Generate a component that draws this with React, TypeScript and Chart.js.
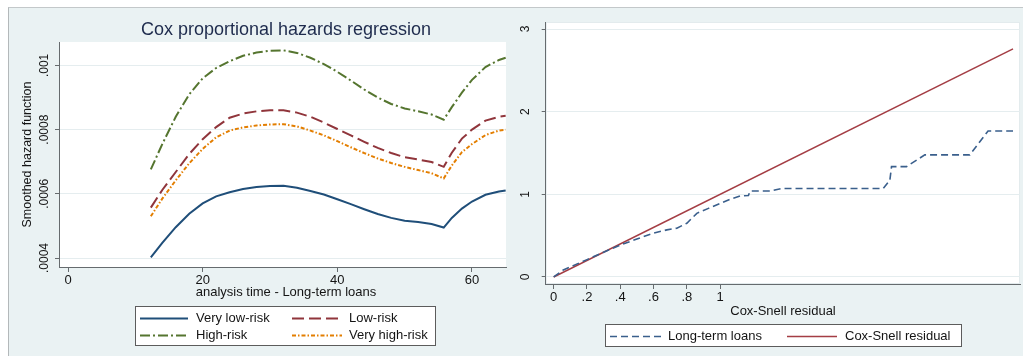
import React, { useEffect, useRef } from 'react';
import { Chart, registerables } from 'chart.js';

Chart.register(...registerables);

// Smoothed hazard estimates by risk group, long-term loans
const hazardTime = [12.3, 14, 16, 18, 20, 22, 24, 26, 28, 30, 32, 34, 36, 38, 40, 42, 44, 46, 48, 50, 52, 54, 55.8, 57, 58.5, 60, 62, 64, 65];
const veryLowRisk = [0.000402, 0.000447, 0.000496, 0.000538, 0.00057, 0.000592, 0.000605, 0.000615, 0.000621, 0.000624, 0.000625, 0.000619, 0.000609, 0.000598, 0.000583, 0.000568, 0.000552, 0.000537, 0.000525, 0.000516, 0.000512, 0.000506, 0.000495, 0.000525, 0.000554, 0.000576, 0.000597, 0.000607, 0.00061];
const lowRisk = [0.000557, 0.000612, 0.000668, 0.000724, 0.00077, 0.000808, 0.000837, 0.00085, 0.000857, 0.00086, 0.00086, 0.000853, 0.00084, 0.000822, 0.000802, 0.000782, 0.000762, 0.000743, 0.000727, 0.000714, 0.000707, 0.000699, 0.000684, 0.000728, 0.000772, 0.0008, 0.000828, 0.00084, 0.000843];
const highRisk = [0.000676, 0.000755, 0.00084, 0.00091, 0.00096, 0.000992, 0.001013, 0.00103, 0.00104, 0.001046, 0.001047, 0.001039, 0.001024, 0.001004, 0.00098, 0.000953, 0.000925, 0.0009, 0.00088, 0.000866, 0.000857, 0.000847, 0.000831, 0.00087, 0.000915, 0.000955, 0.000995, 0.001017, 0.001024];
const veryHighRisk = [0.00053, 0.000585, 0.000642, 0.000695, 0.00074, 0.000776, 0.000797, 0.000807, 0.000813, 0.000816, 0.000817, 0.00081, 0.000797, 0.000782, 0.000764, 0.000745, 0.000727, 0.00071, 0.000696, 0.000684, 0.000674, 0.000664, 0.000648, 0.000688, 0.00073, 0.000755, 0.000783, 0.000797, 0.0008];
const hazardXTicks = [0, 20, 40, 60];
const hazardXTickLabels = ['0', '20', '40', '60'];
const hazardYTicks = [0.0004, 0.0006, 0.0008, 0.001];
const hazardYTickLabels = ['.0004', '.0006', '.0008', '.001'];

// Cumulative hazard of Cox-Snell residuals vs. the 45-degree reference line
const longTermX = [0, 0.058, 0.2, 0.3, 0.4, 0.5, 0.6, 0.68, 0.74, 0.8, 0.86, 0.93, 1.0, 1.06, 1.12, 1.17, 1.18, 1.3, 1.37, 1.98, 2.02, 2.03, 2.12, 2.23, 2.5, 2.61, 2.76];
const longTermY = [0, 0.085, 0.21, 0.3, 0.385, 0.46, 0.53, 0.57, 0.59, 0.65, 0.77, 0.83, 0.89, 0.94, 0.98, 0.985, 1.04, 1.04, 1.07, 1.07, 1.17, 1.335, 1.335, 1.477, 1.477, 1.767, 1.767];
const residualX = [0, 2.76];
const residualY = [0, 2.76];
const residualXTicks = [0, 0.2, 0.4, 0.6, 0.8, 1];
const residualXTickLabels = ['0', '.2', '.4', '.6', '.8', '1'];
const residualYTicks = [0, 1, 2, 3];
const residualYTickLabels = ['0', '1', '2', '3'];

const FONT = '"Liberation Sans", Arial, Helvetica, sans-serif';
const TEXT = '#141414';
const AXIS = '#666b6e';
const GRID = '#e5edef';

type LegendItem = { ds: number; x1: number; x2: number; tx: number; y: number };
type Decor = {
  title?: { text: string; x: number; y: number };
  xTitle: { text: string; x: number; y: number };
  yTickLabels: string[];
  yLabelX: number;
  legendBox: [number, number, number, number];
  legendItems: LegendItem[];
  frame?: string;
};

// Stata-style decorations: white plot region, rotated y labels, titles and boxed legend
function stataDecor(d: Decor) {
  return {
    id: 'stataDecor',
    beforeDraw(chart: any) {
      const { ctx, chartArea: a } = chart;
      ctx.save();
      ctx.fillStyle = '#ffffff';
      ctx.fillRect(a.left, a.top, a.right - a.left, a.bottom - a.top);
      if (d.frame) {
        ctx.strokeStyle = d.frame;
        ctx.lineWidth = 1;
        ctx.strokeRect(a.left + 0.5, a.top + 0.5, a.right - a.left - 1, a.bottom - a.top - 1);
      }
      ctx.restore();
    },
    afterDraw(chart: any) {
      const { ctx, scales } = chart;
      ctx.save();
      ctx.fillStyle = TEXT;
      ctx.textBaseline = 'middle';
      ctx.textAlign = 'center';
      if (d.title) {
        ctx.fillStyle = '#1e2b4d';
        ctx.font = `18px ${FONT}`;
        ctx.fillText(d.title.text, d.title.x, d.title.y);
        ctx.fillStyle = TEXT;
      }
      ctx.font = `13px ${FONT}`;
      ctx.fillText(d.xTitle.text, d.xTitle.x, d.xTitle.y);

      // vertical tick labels on the y axis
      ctx.font = `12px ${FONT}`;
      scales.y.ticks.forEach((t: any, i: number) => {
        const py = scales.y.getPixelForValue(t.value);
        ctx.save();
        ctx.translate(d.yLabelX, py);
        ctx.rotate(-Math.PI / 2);
        ctx.fillText(d.yTickLabels[i], 0, 0);
        ctx.restore();
      });

      // legend
      const [bx1, by1, bx2, by2] = d.legendBox;
      ctx.fillStyle = '#ffffff';
      ctx.fillRect(bx1, by1, bx2 - bx1, by2 - by1);
      ctx.strokeStyle = '#5c5c5c';
      ctx.lineWidth = 1;
      ctx.strokeRect(bx1 + 0.5, by1 + 0.5, bx2 - bx1 - 1, by2 - by1 - 1);
      ctx.font = `13px ${FONT}`;
      ctx.textAlign = 'left';
      d.legendItems.forEach((it) => {
        const ds = chart.data.datasets[it.ds];
        ctx.save();
        ctx.strokeStyle = ds.borderColor;
        ctx.lineWidth = ds.borderWidth;
        ctx.setLineDash(ds.borderDash || []);
        ctx.beginPath();
        ctx.moveTo(it.x1, it.y + 0.5);
        ctx.lineTo(it.x2, it.y + 0.5);
        ctx.stroke();
        ctx.restore();
        ctx.fillStyle = TEXT;
        ctx.fillText(ds.label, it.tx, it.y);
      });
      ctx.restore();
    },
  };
}

const toPoints = (xs: number[], ys: number[]) => xs.map((x, i) => ({ x, y: ys[i] }));

function hazardConfig(): any {
  const line = (label: string, ys: number[], color: string, dash: number[]) => ({
    label,
    data: toPoints(hazardTime, ys),
    borderColor: color,
    borderWidth: 2,
    borderDash: dash,
    pointRadius: 0,
    tension: 0,
    fill: false,
  });
  return {
    type: 'line',
    data: {
      datasets: [
        line('Very low-risk', veryLowRisk, '#1f4e79', []),
        line('Low-risk', lowRisk, '#90353b', [12, 5]),
        line('High-risk', highRisk, '#55752f', [10, 3, 2, 3]),
        line('Very high-risk', veryHighRisk, '#e37e00', [4, 2, 1.5, 2]),
      ],
    },
    options: {
      responsive: false,
      animation: false,
      events: [],
      layout: { padding: { left: 0, right: 6, top: 42, bottom: 59 } },
      plugins: { legend: { display: false }, title: { display: false }, tooltip: { enabled: false } },
      scales: {
        x: {
          type: 'linear',
          min: -1.34,
          max: 65.05,
          afterBuildTicks: (s: any) => { s.ticks = hazardXTicks.map((v) => ({ value: v })); },
          afterFit: (s: any) => { s.height = 30; },
          grid: { drawOnChartArea: false, drawTicks: true, tickLength: 5, tickColor: AXIS },
          border: { display: true, color: AXIS, width: 1 },
          ticks: {
            autoSkip: false,
            maxRotation: 0,
            padding: 1,
            color: TEXT,
            font: { family: FONT, size: 13 },
            callback: (_v: any, i: number) => hazardXTickLabels[i],
          },
        },
        y: {
          type: 'linear',
          min: 0.000372,
          max: 0.001073,
          afterBuildTicks: (s: any) => { s.ticks = hazardYTicks.map((v) => ({ value: v })); },
          afterFit: (s: any) => { s.width = 59; },
          grid: { color: GRID, drawTicks: true, tickLength: 4, tickColor: AXIS },
          border: { display: true, color: AXIS, width: 1 },
          ticks: { display: false },
          title: {
            display: true,
            text: 'Smoothed hazard function',
            color: TEXT,
            font: { family: FONT, size: 12.5 },
            padding: { top: 20.5, bottom: 0 },
          },
        },
      },
    },
    plugins: [
      stataDecor({
        title: { text: 'Cox proportional hazards regression', x: 286, y: 30 },
        xTitle: { text: 'analysis time - Long-term loans', x: 286, y: 292 },
        yTickLabels: hazardYTickLabels,
        yLabelX: 45,
        legendBox: [135, 306, 436, 346],
        legendItems: [
          { ds: 0, x1: 140, x2: 188, tx: 196, y: 318 },
          { ds: 1, x1: 292, x2: 342, tx: 349, y: 318 },
          { ds: 2, x1: 140, x2: 188, tx: 196, y: 335 },
          { ds: 3, x1: 292, x2: 342, tx: 349, y: 335 },
        ],
      }),
    ],
  };
}

function residualConfig(): any {
  return {
    type: 'line',
    data: {
      datasets: [
        {
          label: 'Long-term loans',
          data: toPoints(longTermX, longTermY),
          borderColor: '#3a5f8c',
          borderWidth: 1.6,
          borderDash: [7, 4],
          pointRadius: 0,
          tension: 0,
          fill: false,
        },
        {
          label: 'Cox-Snell residual',
          data: toPoints(residualX, residualY),
          borderColor: '#a43d44',
          borderWidth: 1.5,
          pointRadius: 0,
          tension: 0,
          fill: false,
        },
      ],
    },
    options: {
      responsive: false,
      animation: false,
      events: [],
      layout: { padding: { left: 0, right: 3, top: 22, bottom: 42 } },
      plugins: { legend: { display: false }, title: { display: false }, tooltip: { enabled: false } },
      scales: {
        x: {
          type: 'linear',
          min: -0.048,
          max: 2.802,
          afterBuildTicks: (s: any) => { s.ticks = residualXTicks.map((v) => ({ value: v })); },
          afterFit: (s: any) => { s.height = 30; },
          grid: { drawOnChartArea: false, drawTicks: true, tickLength: 5, tickColor: AXIS },
          border: { display: true, color: AXIS, width: 1 },
          ticks: {
            autoSkip: false,
            maxRotation: 0,
            padding: 1,
            color: TEXT,
            font: { family: FONT, size: 13 },
            callback: (_v: any, i: number) => residualXTickLabels[i],
          },
        },
        y: {
          type: 'linear',
          min: -0.085,
          max: 3.085,
          afterBuildTicks: (s: any) => { s.ticks = residualYTicks.map((v) => ({ value: v })); },
          afterFit: (s: any) => { s.width = 33.7; },
          grid: { color: GRID, drawTicks: true, tickLength: 4, tickColor: AXIS },
          border: { display: true, color: AXIS, width: 1 },
          ticks: { display: false },
        },
      },
    },
    plugins: [
      stataDecor({
        xTitle: { text: 'Cox-Snell residual', x: 271, y: 311 },
        yTickLabels: residualYTickLabels,
        yLabelX: 14,
        legendBox: [93, 324, 450, 347],
        legendItems: [
          { ds: 0, x1: 98, x2: 150, tx: 156, y: 336 },
          { ds: 1, x1: 275, x2: 325, tx: 333, y: 336 },
        ],
        frame: '#e3ebed',
      }),
    ],
  };
}

export default function App() {
  const leftRef = useRef<HTMLCanvasElement | null>(null);
  const rightRef = useRef<HTMLCanvasElement | null>(null);

  useEffect(() => {
    const left = new Chart(leftRef.current as HTMLCanvasElement, hazardConfig());
    const right = new Chart(rightRef.current as HTMLCanvasElement, residualConfig());
    return () => {
      left.destroy();
      right.destroy();
    };
  }, []);

  return (
    <div style={{ position: 'fixed', left: 0, top: 0, width: 1023, height: 356, background: '#ffffff', overflow: 'hidden' }}>
      <div
        style={{
          position: 'absolute',
          left: 8,
          top: 7,
          width: 1015,
          height: 349,
          boxSizing: 'border-box',
          background: '#eaf2f3',
          borderTop: '1px solid #c3c8ca',
          borderLeft: '1px solid #b3b8ba',
        }}
      />
      <canvas ref={leftRef} width={512} height={356} style={{ position: 'absolute', left: 0, top: 0 }} />
      <canvas ref={rightRef} width={511} height={356} style={{ position: 'absolute', left: 512, top: 0 }} />
    </div>
  );
}
